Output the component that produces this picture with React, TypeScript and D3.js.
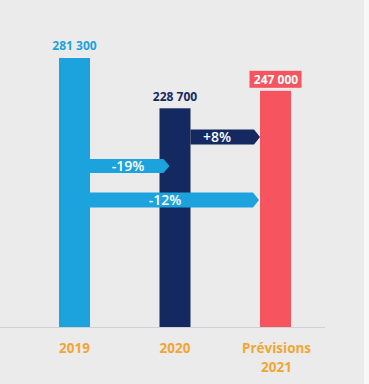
import React, { useEffect, useRef } from "react";
import * as d3 from "d3";

// values
const categories = ["2019", "2020", "Prévisions 2021"];
const values = [281300, 228700, 247000];
const valueLabels = ["281 300", "228 700", "247 000"];
const barColors = ["#1ca3dd", "#13295f", "#f6555f"];

const changeFrom = ["2020", "2019", "2019"];
const changeTo = ["Prévisions 2021", "2020", "Prévisions 2021"];
const changeLabels = ["+8%", "-19%", "-12%"];

const App = () => {
  const svgRef = useRef<SVGSVGElement>(null);

  useEffect(() => {
    const width = 369;
    const height = 384;
    const baseline = 327;
    const barW = 31;

    const svg = d3.select(svgRef.current)
      .attr("width", width)
      .attr("height", height);

    svg.selectAll("*").remove();

    const font = "'Open Sans', sans-serif";

    svg.append("rect")
      .attr("width", width)
      .attr("height", height)
      .attr("fill", "#ebebeb");
    svg.append("rect")
      .attr("x", 364)
      .attr("width", 5)
      .attr("height", height)
      .attr("fill", "#f7f7f7");

    const x = d3.scalePoint<string>()
      .domain(categories)
      .range([74.5, 275.5]);

    const y = d3.scaleLinear()
      .domain([0, d3.max(values) as number])
      .range([baseline, 58]);

    const data = categories.map((c, i) => ({
      cat: c, value: values[i], label: valueLabels[i], color: barColors[i],
    }));

    // axis line
    svg.append("line")
      .attr("x1", 0)
      .attr("x2", 325)
      .attr("y1", baseline + 0.5)
      .attr("y2", baseline + 0.5)
      .attr("stroke", "#cfd0d8")
      .attr("stroke-width", 1);

    svg.selectAll(".bar")
      .data(data)
      .enter().append("rect")
      .attr("class", "bar")
      .attr("x", d => (x(d.cat) as number) - barW / 2)
      .attr("y", d => y(d.value))
      .attr("width", barW)
      .attr("height", d => baseline - y(d.value))
      .attr("fill", d => d.color);

    // change arrows
    const rowY = [137, 166, 200];
    const arrowH = [15, 14, 15];
    const overshoot = [0, 10, -1];
    const tip = 6;
    changeLabels.forEach((lab, i) => {
      const x0 = (x(changeFrom[i]) as number) + barW / 2;
      const x1 = (x(changeTo[i]) as number) - barW / 2 + overshoot[i];
      const h = arrowH[i];
      const cy = rowY[i];
      const color = i === 0 ? barColors[1] : barColors[0];
      const path = d3.path();
      path.moveTo(x0, cy - h / 2);
      path.lineTo(x1 - tip, cy - h / 2);
      path.lineTo(x1, cy);
      path.lineTo(x1 - tip, cy + h / 2);
      path.lineTo(x0, cy + h / 2);
      path.closePath();
      svg.append("path")
        .attr("d", path.toString())
        .attr("fill", color);
      const tx = i === 0 ? 217 : i === 1 ? 128 : 165;
      svg.append("text")
        .attr("x", tx)
        .attr("y", cy)
        .attr("dy", "0.36em")
        .attr("text-anchor", "middle")
        .attr("fill", "#ffffff")
        .attr("font-family", font)
        .attr("font-weight", 600)
        .attr("font-size", 14)
        .text(lab);
    });

    // value labels
    data.forEach((d, i) => {
      const cx = x(d.cat) as number;
      if (i === 2) {
        svg.append("rect")
          .attr("x", cx - 26)
          .attr("y", y(d.value) - 20)
          .attr("width", 52)
          .attr("height", 17)
          .attr("fill", d.color);
        svg.append("text")
          .attr("x", cx + 0.5)
          .attr("y", y(d.value) - 11.5)
          .attr("dy", "0.36em")
          .attr("text-anchor", "middle")
          .attr("fill", "#ffffff")
          .attr("font-family", font)
          .attr("font-weight", 700)
          .attr("font-size", 12)
          .text(d.label);
      } else {
        svg.append("text")
          .attr("x", cx)
          .attr("y", y(d.value) - 12)
          .attr("dy", "0.36em")
          .attr("text-anchor", "middle")
          .attr("fill", d.color)
          .attr("font-family", font)
          .attr("font-weight", 700)
          .attr("font-size", 12)
          .text(d.label);
      }
    });

    // category labels
    data.forEach(d => {
      const lines = d.cat.split(" ");
      const t = svg.append("text")
        .attr("text-anchor", "middle")
        .attr("fill", "#f0a634")
        .attr("font-family", font)
        .attr("font-weight", 700)
        .attr("font-size", 13.5);
      lines.forEach((ln, j) => {
        t.append("tspan")
          .attr("x", (x(d.cat) as number) + (lines.length > 1 ? 1 : 0))
          .attr("y", 348 + j * 19)
          .attr("dy", "0.36em")
          .text(ln);
      });
    });
  }, []);

  return (
    <div style={{ position: "fixed", left: 0, top: 0 }}>
      <svg ref={svgRef} style={{ display: "block" }}></svg>
    </div>
  );
};

export default App;
